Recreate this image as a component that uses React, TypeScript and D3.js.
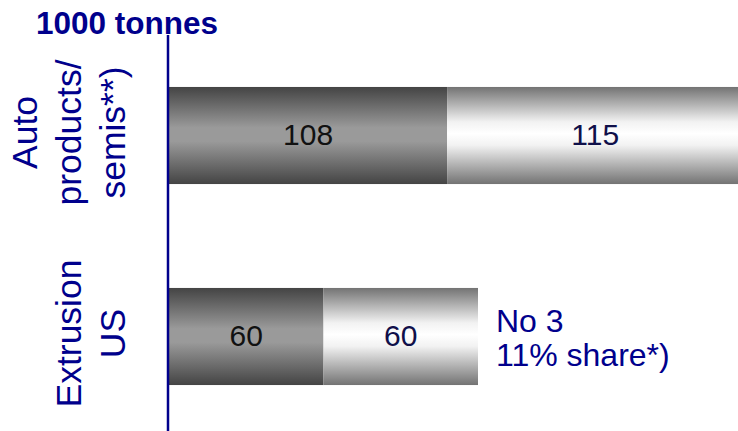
import React from "react";
import * as d3 from "d3";

// Volumes in 1000 tonnes, two stacked parts per business line
const categories = ["Auto products/ semis**)", "Extrusion US"];
const categoryLines = [["Auto", "products/", "semis**)"], ["Extrusion", "US"]];
const partA = [108, 60];
const partB = [115, 60];
const unitLabel = "1000 tonnes";
const noteLines = ["No 3", "11% share*)"];

const W = 738;
const H = 431;
const NAVY = "#00008c";
const FONT = "'Liberation Sans', Arial, sans-serif";

export default function App() {
  const x = d3.scaleLinear().domain([0, 220]).range([169, 735.5]);
  const y = d3
    .scaleBand<string>()
    .domain(categories)
    .range([34.7, 437.3])
    .paddingInner(0.517)
    .paddingOuter(0.26);

  const stacked = categories.map((c, i) => ({
    cat: c,
    segs: [
      { key: "a", x0: 0, x1: partA[i], v: partA[i] },
      { key: "b", x0: partA[i], x1: partA[i] + partB[i], v: partB[i] },
    ],
  }));

  const bw = y.bandwidth();

  return (
    <svg
      width={W}
      height={H}
      style={{ position: "absolute", left: 0, top: 0, background: "#fff" }}
      fontFamily={FONT}
    >
      <defs>
        <linearGradient id="gradDark" x1="0" y1="0" x2="0" y2="1">
          <stop offset="0" stopColor="#444" />
          <stop offset="0.42" stopColor="#9a9a9a" />
          <stop offset="0.56" stopColor="#9a9a9a" />
          <stop offset="1" stopColor="#444" />
        </linearGradient>
        <linearGradient id="gradLight" x1="0" y1="0" x2="0" y2="1">
          <stop offset="0" stopColor="#737373" />
          <stop offset="0.36" stopColor="#f2f2f2" />
          <stop offset="0.48" stopColor="#ffffff" />
          <stop offset="0.6" stopColor="#f2f2f2" />
          <stop offset="1" stopColor="#737373" />
        </linearGradient>
      </defs>

      <text x={36} y={34} fontSize={31.5} fontWeight="bold" fill={NAVY}>
        {unitLabel}
      </text>

      {stacked.map((row) => (
        <g key={row.cat}>
          {row.segs.map((s) => (
            <rect
              key={s.key}
              x={x(s.x0)}
              y={y(row.cat)!}
              width={x(s.x1) - x(s.x0)}
              height={bw}
              fill={s.key === "a" ? "url(#gradDark)" : "url(#gradLight)"}
            />
          ))}
          {row.segs.map((s) => (
            <text
              key={"t" + s.key}
              x={(x(s.x0) + x(s.x1)) / 2}
              y={y(row.cat)! + bw / 2 - 1}
              dy="0.36em"
              textAnchor="middle"
              fontSize={30}
              fill={s.key === "a" ? "#111" : "#10104a"}
            >
              {s.v}
            </text>
          ))}
        </g>
      ))}

      {categories.map((c, i) => {
        const lines = categoryLines[i];
        const cy = y(c)! + bw / 2 - 3;
        const lastBase = 125;
        return (
          <text
            key={"lab" + c}
            transform={`translate(0,${cy}) rotate(-90)`}
            textAnchor="middle"
            fontSize={35.5}
            fill={NAVY}
          >
            {lines.map((ln, j) => (
              <tspan key={ln} x={0} y={lastBase - (lines.length - 1 - j) * 44}>
                {ln}
              </tspan>
            ))}
          </text>
        );
      })}

      <line x1={168} x2={168} y1={35} y2={H} stroke={NAVY} strokeWidth={2.5} />

      {noteLines.map((ln, j) => (
        <text
          key={ln}
          x={x(partA[1] + partB[1]) + 18}
          y={332 + j * 34}
          fontSize={32}
          fill={NAVY}
        >
          {ln}
        </text>
      ))}
    </svg>
  );
}
